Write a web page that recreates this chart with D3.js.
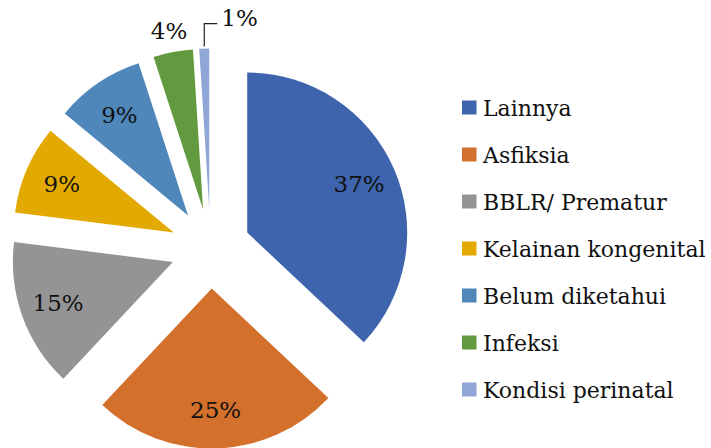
<!DOCTYPE html>
<html>
<head>
<meta charset="utf-8">
<script src="https://cdn.jsdelivr.net/npm/d3@7"></script>
<style>
  html, body { margin: 0; padding: 0; background: #fff; }
  svg { display: block; }
  text { font-family: "DejaVu Serif", serif; fill: #111; }
</style>
</head>
<body>
<svg id="chart" width="711" height="448"></svg>
<script>
// Penyebab kematian neonatal (persen)
const categories = ["Lainnya", "Asfiksia", "BBLR/ Prematur", "Kelainan kongenital",
                    "Belum diketahui", "Infeksi", "Kondisi perinatal"];
const values = [37, 25, 15, 9, 9, 4, 1];
const colors = ["#3D64AC", "#D3702C", "#949494", "#E2AA00", "#4F87BB", "#629A40", "#8FA6D7"];

const svg = d3.select("#chart");
const width = 711, height = 448;

const cx = 210.5, cy = 248.5;   // pie centre
const radius = 160;
const explode = 40;             // every slice pulled out from the centre
const labelR = 122;             // inside label distance from slice tip

const pie = d3.pie().sort(null).value(d => d.value).startAngle(0).endAngle(2 * Math.PI);
const arc = d3.arc().innerRadius(0).outerRadius(radius);

const data = categories.map((c, i) => ({ name: c, value: values[i], color: colors[i] }));
const arcs = pie(data);

const fmt = v => `${v}%`;
const mid = a => (a.startAngle + a.endAngle) / 2;

const g = svg.append("g").attr("transform", `translate(${cx},${cy})`);

const slice = g.selectAll("g.slice")
  .data(arcs)
  .join("g")
  .attr("class", "slice")
  .attr("transform", a => {
    const m = mid(a);
    return `translate(${explode * Math.sin(m)},${-explode * Math.cos(m)})`;
  });

slice.append("path")
  .attr("d", arc)
  .attr("fill", a => a.data.color);

// Labels: inside for larger slices, outside for small ones
let prevOutside = null;
slice.each(function(a) {
  const sel = d3.select(this);
  const m = mid(a);
  if (a.data.value >= 5) {
    sel.append("text")
      .attr("x", labelR * Math.sin(m))
      .attr("y", -labelR * Math.cos(m))
      .attr("text-anchor", "middle")
      .attr("dominant-baseline", "central")
      .attr("font-size", 23)
      .text(fmt(a.data.value));
  } else {
    const rr = radius + 21;
    let x = rr * Math.sin(m), y = -rr * Math.cos(m);
    const t = sel.append("text")
      .attr("font-size", 23)
      .attr("dominant-baseline", "central")
      .text(fmt(a.data.value));
    const w = t.node().getComputedTextLength();
    if (prevOutside && x - w / 2 < prevOutside.right + 4) {
      // crowded: move it right and tie it back with an elbow leader
      const tipX = (radius - 2) * Math.sin(m);
      const tipY = -(radius + 2) * Math.cos(m);
      const elbowY = tipY - 23;
      const textX = tipX + 17;
      sel.append("path")
        .attr("d", `M${tipX},${tipY}V${elbowY}H${textX - 4}`)
        .attr("fill", "none")
        .attr("stroke", "#222")
        .attr("stroke-width", 1.2);
      t.attr("x", textX).attr("y", elbowY - 6).attr("text-anchor", "start");
    } else {
      t.attr("x", x).attr("y", y).attr("text-anchor", "middle");
    }
    const pos = +t.attr("x");
    prevOutside = { right: (t.attr("text-anchor") === "middle" ? pos + w / 2 : pos + w) };
  }
});

// Legend
const legend = svg.append("g").attr("transform", "translate(462,100.5)");
const rowH = 47;
const item = legend.selectAll("g.item")
  .data(data)
  .join("g")
  .attr("class", "item")
  .attr("transform", (d, i) => `translate(0,${i * rowH})`);
item.append("rect")
  .attr("width", 14.5).attr("height", 14)
  .attr("fill", d => d.color);
item.append("text")
  .attr("x", 21)
  .attr("y", 15.5)
  .attr("font-size", 22)
  .text(d => d.name);
</script>
</body>
</html>
